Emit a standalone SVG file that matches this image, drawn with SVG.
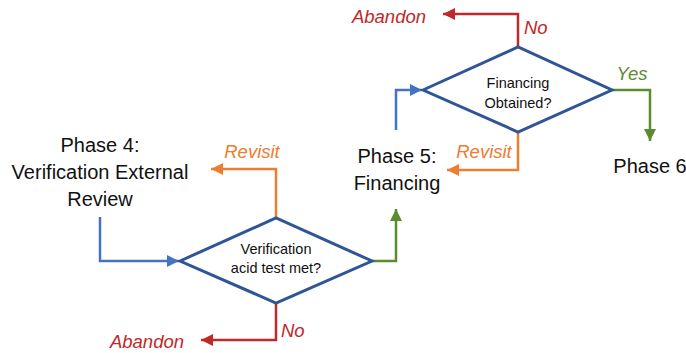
<svg xmlns="http://www.w3.org/2000/svg" width="686" height="353" viewBox="0 0 686 353">
<style>
.dia{fill:#fff;stroke:#2F5597;stroke-width:3;stroke-linejoin:miter}
.big{font-family:"Liberation Sans",Arial,sans-serif;font-size:20px;fill:#111;text-anchor:middle}
.small{font-family:"Liberation Sans",Arial,sans-serif;font-size:14.5px;fill:#111;text-anchor:middle}
.lab{font-family:"Liberation Sans",Arial,sans-serif;font-size:18.5px;font-style:italic}
.c{fill:none;stroke-width:2.5}
.blue{stroke:#4472C4}.org{stroke:#ED7D31}.red{stroke:#C0282A}.grn{stroke:#5B8C32}
</style>
<defs>
<marker id="aB" markerUnits="userSpaceOnUse" markerWidth="14" markerHeight="14" refX="12" refY="6" orient="auto"><path d="M0,0L12,6L0,12z" fill="#4472C4"/></marker>
<marker id="aO" markerUnits="userSpaceOnUse" markerWidth="14" markerHeight="14" refX="12" refY="6" orient="auto"><path d="M0,0L12,6L0,12z" fill="#ED7D31"/></marker>
<marker id="aR" markerUnits="userSpaceOnUse" markerWidth="14" markerHeight="14" refX="12" refY="6" orient="auto"><path d="M0,0L12,6L0,12z" fill="#C0282A"/></marker>
<marker id="aG" markerUnits="userSpaceOnUse" markerWidth="14" markerHeight="14" refX="12" refY="6" orient="auto"><path d="M0,0L12,6L0,12z" fill="#5B8C32"/></marker>
</defs>
<g id="connectors">
<path class="c blue" d="M100,217V261H179" marker-end="url(#aB)"/>
<path class="c org" d="M276,218V169H211" marker-end="url(#aO)"/>
<path class="c red" d="M276,303V340H201" marker-end="url(#aR)"/>
<path class="c grn" d="M372,261H396V209" marker-end="url(#aG)"/>
<path class="c blue" d="M396,130V90H422" marker-end="url(#aB)"/>
<path class="c red" d="M518,47V14H443" marker-end="url(#aR)"/>
<path class="c grn" d="M612,90H650V141" marker-end="url(#aG)"/>
<path class="c org" d="M518,132V170H447" marker-end="url(#aO)"/>
<text class="lab" x="252" y="158" fill="#ED7D31" text-anchor="middle">Revisit</text>
<text class="lab" x="281" y="337" fill="#C0282A">No</text>
<text class="lab" x="147" y="348" fill="#C0282A" text-anchor="middle">Abandon</text>
<text class="lab" x="524" y="34" fill="#C0282A">No</text>
<text class="lab" x="389" y="23" fill="#C0282A" text-anchor="middle">Abandon</text>
<text class="lab" x="632" y="80" fill="#5B8C32" text-anchor="middle">Yes</text>
<text class="lab" x="484" y="158" fill="#ED7D31" text-anchor="middle">Revisit</text>
</g>
<g id="phase4">
<text class="big" x="100" y="152">Phase 4:</text>
<text class="big" x="100" y="179">Verification External</text>
<text class="big" x="100" y="206">Review</text>
</g>
<g id="decision1">
<polygon class="dia" points="180,261 276,218 372,261 276,303"/>
<text class="small" x="276" y="254">Verification</text>
<text class="small" x="276" y="273">acid test met?</text>
</g>
<g id="phase5">
<text class="big" x="397" y="163">Phase 5:</text>
<text class="big" x="397" y="190">Financing</text>
</g>
<g id="decision2">
<polygon class="dia" points="423,90 518,47 612,90 518,132"/>
<text class="small" x="518" y="88">Financing</text>
<text class="small" x="518" y="108">Obtained?</text>
</g>
<g id="phase6">
<text class="big" x="650" y="173">Phase 6</text>
</g>
</svg>
